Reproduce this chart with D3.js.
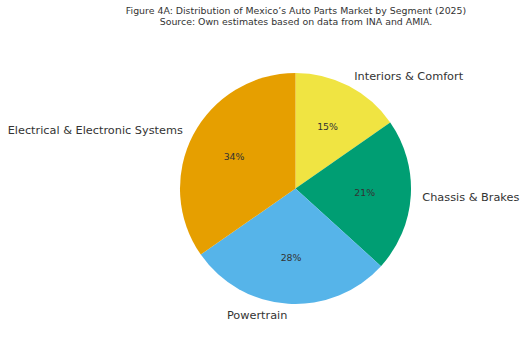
<!DOCTYPE html>
<html>
<head>
<meta charset="utf-8">
<script src="https://cdn.jsdelivr.net/npm/d3@7/dist/d3.min.js"></script>
<style>
  body { margin: 0; background: #fff; }
  svg { display: block; font-family: "DejaVu Sans", sans-serif; }
</style>
</head>
<body>
<div id="chart"></div>
<script>
var segments = ["Interiors & Comfort", "Chassis & Brakes", "Powertrain", "Electrical & Electronic Systems"];
var shares = [15, 21, 28, 34];
var colors = ["#F0E442", "#009E73", "#56B4E9", "#E69F00"];
var titleLines = [
    "Figure 4A: Distribution of Mexico\u2019s Auto Parts Market by Segment (2025)",
    "Source: Own estimates based on data from INA and AMIA."
];

var width = 526,
    height = 340,
    cx = 295.5,
    cy = 188.5,
    radius = 115.5;

var svg = d3.select("#chart")
    .append("svg")
    .attr("width", width)
    .attr("height", height);

svg.selectAll("text.title")
    .data(titleLines)
    .enter().append("text")
    .attr("class", "title")
    .attr("x", 296)
    .attr("y", function(d, i) { return 14.3 + i * 11; })
    .attr("text-anchor", "middle")
    .attr("font-size", "9.4px")
    .attr("fill", "#333")
    .text(function(d) { return d; });

var pie = d3.pie().sort(null),
    arcs = pie(shares);

var arc = d3.arc().innerRadius(0).outerRadius(radius);

var g = svg.append("g")
    .attr("transform", "translate(" + cx + "," + cy + ")");

g.selectAll("path")
    .data(arcs)
    .enter().append("path")
    .attr("d", arc)
    .attr("fill", function(d, i) { return colors[i]; });

// position on a circle of radius r at the slice middle
function at(d, r) {
    var a = (d.startAngle + d.endAngle) / 2;
    return [r * Math.sin(a), -r * Math.cos(a)];
}

g.selectAll("text.label")
    .data(arcs)
    .enter().append("text")
    .attr("class", "label")
    .attr("x", function(d) { return at(d, radius * 1.1)[0]; })
    .attr("y", function(d) { return at(d, radius * 1.1)[1]; })
    .attr("dy", "0.35em")
    .attr("text-anchor", function(d) { return at(d, 1)[0] > 0 ? "start" : "end"; })
    .attr("font-size", "11.3px")
    .attr("fill", "#333")
    .text(function(d, i) { return segments[i]; });

g.selectAll("text.pct")
    .data(arcs)
    .enter().append("text")
    .attr("class", "pct")
    .attr("x", function(d) { return at(d, radius * 0.6)[0]; })
    .attr("y", function(d) { return at(d, radius * 0.6)[1]; })
    .attr("dy", "0.35em")
    .attr("text-anchor", "middle")
    .attr("font-size", "9.4px")
    .attr("fill", "#333")
    .text(function(d) { return d.data + "%"; });
</script>
</body>
</html>
